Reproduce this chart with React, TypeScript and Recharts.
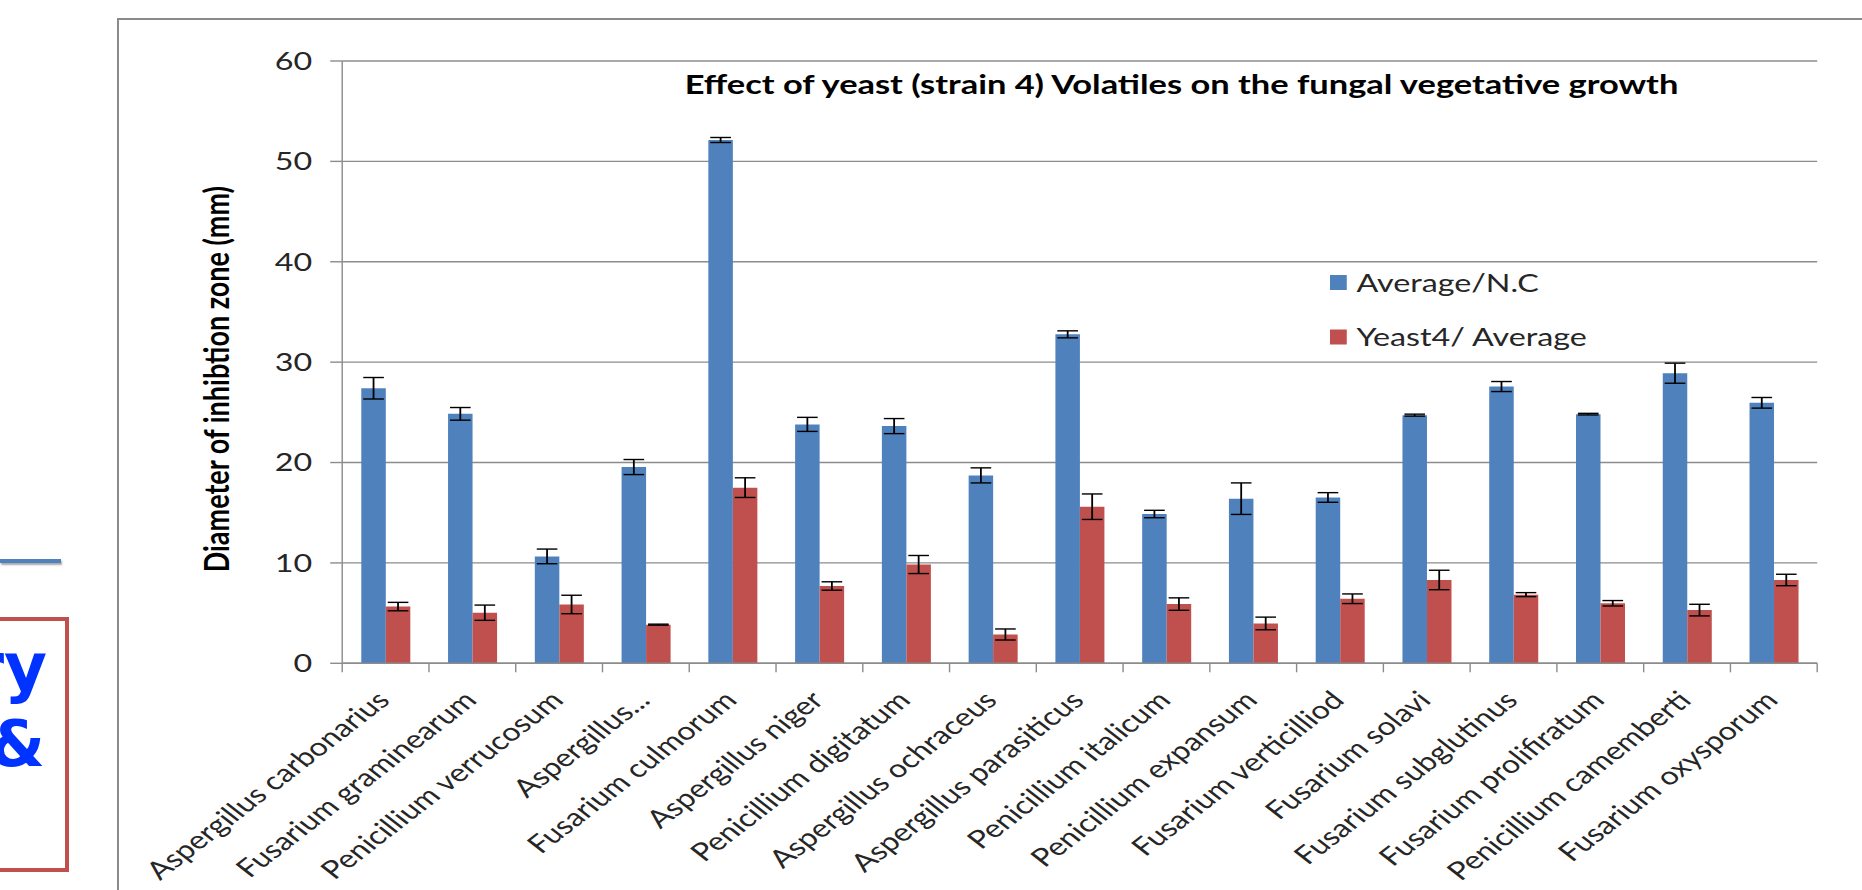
import React from 'react';
import { BarChart, Bar, XAxis, YAxis, CartesianGrid, ErrorBar, Legend } from 'recharts';

// ---------- data ----------
const categories = [
  'Aspergillus carbonarius',
  'Fusarium graminearum',
  'Penicillium verrucosum',
  'Aspergillus...',
  'Fusarium culmorum',
  'Aspergillus niger',
  'Penicillium digitatum',
  'Aspergillus ochraceus',
  'Aspergillus parasiticus',
  'Penicillium italicum',
  'Penicillium expansum',
  'Fusarium verticilliod',
  'Fusarium solavi',
  'Fusarium subglutinus',
  'Fusarium prolifiratum',
  'Penicillium camemberti',
  'Fusarium oxysporum',
];
const averageNC = [27.4, 24.85, 10.65, 19.55, 52.13, 23.8, 23.63, 18.72, 32.77, 14.87, 16.4, 16.52, 24.72, 27.57, 24.82, 28.9, 25.95];
const averageNCErr = [1.07, 0.63, 0.73, 0.75, 0.25, 0.7, 0.75, 0.75, 0.35, 0.37, 1.57, 0.48, 0.1, 0.5, 0.08, 1.0, 0.53];
const yeast4 = [5.65, 5.04, 5.86, 3.85, 17.5, 7.7, 9.84, 2.87, 15.6, 5.9, 3.97, 6.43, 8.3, 6.84, 5.98, 5.3, 8.3];
const yeast4Err = [0.42, 0.76, 0.92, 0.05, 0.98, 0.42, 0.9, 0.55, 1.27, 0.62, 0.63, 0.48, 0.97, 0.2, 0.27, 0.58, 0.57];
const yTicks = [0, 10, 20, 30, 40, 50, 60];

const seriesNames = ['Average/N.C', 'Yeast4/ Average'];
const seriesColors = ['#4F81BD', '#C0504D'];
const titleText = 'Effect of yeast (strain 4) Volatiles on the fungal vegetative growth';
const yLabelText = 'Diameter of inhibtion zone (mm)';

const data = categories.map((name, i) => ({
  name,
  nc: averageNC[i],
  ncErr: averageNCErr[i],
  y4: yeast4[i],
  y4Err: yeast4Err[i],
}));

// ---------- layout ----------
const SX = 1.29; // horizontal stretch of the reference picture
const CW = 1444;
const CH = 890;
const M_LEFT = 70.27;
const Y_W = 195;
const M_RIGHT = 35.32;
const M_TOP = 61;
const X_H = 150;
const M_BOTTOM = 890 - 663.3 - X_H;
const PLOT_W = CW - M_LEFT - Y_W - M_RIGHT;
const BAND = PLOT_W / categories.length;

const FONT = 'Lato, "Open Sans", sans-serif';
const AXIS = '#8c8c8c';
const TXT = '#262626';

const XTick = (props: any) => {
  const { x, y, payload, index } = props;
  const half = BAND / 2;
  return (
    <g>
      <line x1={x - half} y1={y} x2={x - half} y2={y + 9} stroke={AXIS} strokeWidth={1.1} />
      {index === categories.length - 1 && (
        <line x1={x + half} y1={y} x2={x + half} y2={y + 9} stroke={AXIS} strokeWidth={1.1} />
      )}
      <text
        x={0}
        y={0}
        transform={`translate(${x + 4.5},${y + 38.5}) rotate(-45)`}
        textAnchor="end"
        fontSize={25}
        fontFamily={FONT}
        fill={TXT}
      >
        {payload.value}
      </text>
    </g>
  );
};

const LegendContent = (props: any) => {
  const payload = props.payload || [];
  return (
    <svg width={220} height={110} style={{ overflow: 'visible', display: 'block' }}>
      {payload.map((p: any, i: number) => (
        <g key={p.value}>
          <rect x={0} y={i * 54.5} width={13} height={15} fill={p.color} />
          <text x={20.5} y={i * 54.5 + 16.5} fontSize={25} fontFamily={FONT} fill={TXT}>
            {p.value}
          </text>
        </g>
      ))}
    </svg>
  );
};

export default function App() {
  return (
    <div
      style={{
        position: 'fixed',
        left: 0,
        top: 0,
        width: 1862,
        height: 890,
        overflow: 'hidden',
        background: '#ffffff',
      }}
    >
      {/* partial slide elements at the left edge */}
      <div
        style={{
          position: 'absolute',
          left: 0,
          top: 559,
          width: 61,
          height: 4,
          background: '#4F81BD',
          boxShadow: '1px 2px 2px rgba(0,0,0,0.35)',
        }}
      />
      <div
        style={{
          position: 'absolute',
          left: -40,
          top: 617,
          width: 109,
          height: 255,
          border: '4px solid #C0504D',
          boxSizing: 'border-box',
        }}
      />
      <svg style={{ position: 'absolute', left: 0, top: 600 }} width={110} height={200}>
        <text x={47} y={90} textAnchor="end" fontSize={66} fontWeight={900} fontFamily='"DejaVu Sans", sans-serif' fill="#0033FF">
          ry
        </text>
        <text x={45} y={166} textAnchor="end" fontSize={64} fontWeight={900} fontFamily='"DejaVu Sans", sans-serif' fill="#0033FF">
          &amp;
        </text>
      </svg>
      {/* chart frame */}
      <div
        style={{
          position: 'absolute',
          left: 116.7,
          top: 18.3,
          width: 1800,
          height: 900,
          borderLeft: '2.6px solid #8a8a8a',
          borderTop: '2.4px solid #8a8a8a',
        }}
      />
      {/* chart, stretched horizontally like the reference */}
      <div
        style={{
          position: 'absolute',
          left: 0,
          top: 0,
          width: CW,
          height: CH,
          transform: `scaleX(${SX})`,
          transformOrigin: '0 0',
        }}
      >
        <BarChart
          width={CW}
          height={CH}
          data={data}
          margin={{ top: M_TOP, right: M_RIGHT, bottom: M_BOTTOM, left: M_LEFT }}
          barCategoryGap="22%"
          barGap={0}
        >
          <CartesianGrid vertical={false} stroke={AXIS} strokeWidth={1.4} />
          <XAxis
            dataKey="name"
            interval={0}
            height={X_H}
            tickSize={0}
            tickMargin={0}
            tickLine={false}
            axisLine={{ stroke: AXIS, strokeWidth: 1.4 }}
            tick={<XTick />}
          />
          <YAxis
            domain={[0, 60]}
            ticks={yTicks}
            interval={0}
            width={Y_W}
            tickSize={9.3}
            tickMargin={14}
            axisLine={{ stroke: AXIS, strokeWidth: 1.1 }}
            tickLine={{ stroke: AXIS, strokeWidth: 1.4 }}
            tick={{ fontSize: 25, fill: TXT, fontFamily: FONT }}
            label={{
              value: yLabelText,
              angle: -90,
              position: 'center',
              dy: 17,
              style: { fontSize: 27, fontWeight: 700, fill: '#000', fontFamily: FONT },
            }}
          />
          <Legend
            layout="vertical"
            align="center"
            verticalAlign="middle"
            wrapperStyle={{ left: 1031, top: 275, width: 220, height: 110 }}
            content={<LegendContent />}
          />
          <Bar dataKey="nc" name={seriesNames[0]} fill={seriesColors[0]} isAnimationActive={false}>
            <ErrorBar dataKey="ncErr" width={8} stroke="#000" strokeWidth={1.4} direction="y" />
          </Bar>
          <Bar dataKey="y4" name={seriesNames[1]} fill={seriesColors[1]} isAnimationActive={false}>
            <ErrorBar dataKey="y4Err" width={8} stroke="#000" strokeWidth={1.4} direction="y" />
          </Bar>
        </BarChart>
        <svg
          style={{ position: 'absolute', left: 0, top: 0, pointerEvents: 'none' }}
          width={CW}
          height={120}
        >
          <text x={915.9} y={94} textAnchor="middle" fontSize={26.7} fontWeight={700} fontFamily={FONT} fill="#000">
            {titleText}
          </text>
        </svg>
      </div>
    </div>
  );
}
